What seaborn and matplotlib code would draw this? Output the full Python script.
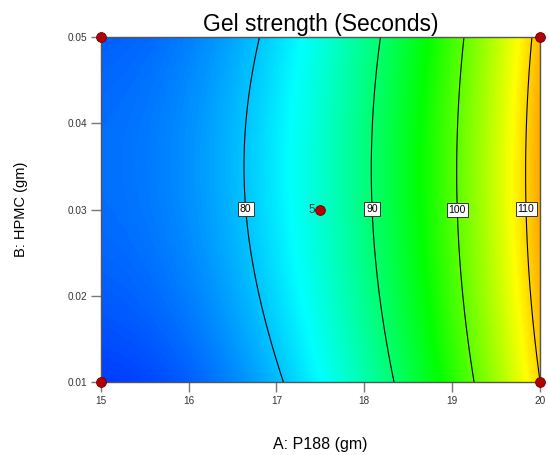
import numpy as np
import pandas as pd
import matplotlib
matplotlib.use("Agg")
import matplotlib.pyplot as plt
import seaborn as sns
from matplotlib.colors import LinearSegmentedColormap

# ---------------- data ----------------
p188_range = [15.0, 20.0]
hpmc_range = [0.01, 0.05]
# coded quadratic model: Y = I + A*a + B*b + AB*a*b + A2*a^2 + B2*b^2
coef_terms = ["I", "A", "B", "AB", "A2", "B2"]
coef_values = [85.2, 18.27, 0.76, -0.1, 8.73, -1.6]
contour_levels = [80, 90, 100, 110]
design_p188 = [15, 15, 20, 20, 17.5]
design_hpmc = [0.01, 0.05, 0.01, 0.05, 0.03]
center_reps = 5
x_ticks = [15, 16, 17, 18, 19, 20]
y_ticks = [0.01, 0.02, 0.03, 0.04, 0.05]
color_limits = [70.2, 120.6]
title = "Gel strength (Seconds)"
x_label = "A: P188 (gm)"
y_label = "B: HPMC (gm)"

# ---------------- styling ----------------
sns.set_theme(style="ticks")
plt.rcParams["font.family"] = ["Liberation Sans", "DejaVu Sans"]

coef = dict(zip(coef_terms, coef_values))
A = np.linspace(p188_range[0], p188_range[1], 400)
B = np.linspace(hpmc_range[0], hpmc_range[1], 400)
AA, BB = np.meshgrid(A, B)
a = (AA - np.mean(p188_range)) / (np.diff(p188_range)[0] / 2)
b = (BB - np.mean(hpmc_range)) / (np.diff(hpmc_range)[0] / 2)
Y = (coef["I"] + coef["A"] * a + coef["B"] * b + coef["AB"] * a * b
     + coef["A2"] * a ** 2 + coef["B2"] * b ** 2)

cmap = LinearSegmentedColormap.from_list(
    "de", ["#0000ff", "#00ffff", "#00ff00", "#ffff00", "#ff0000"])

fig = plt.figure(figsize=(5.48, 4.55), dpi=100)
ax = fig.add_axes([0.184, 0.160, 0.801, 0.759])

ax.imshow(Y, extent=[A[0], A[-1], B[0], B[-1]], origin="lower", aspect="auto",
          cmap=cmap, vmin=color_limits[0], vmax=color_limits[1],
          interpolation="bilinear")
cs = ax.contour(AA, BB, Y, levels=contour_levels, colors="black",
                linewidths=0.8)

mid_b = np.mean(hpmc_range)
for lev, segs in zip(contour_levels, cs.allsegs):
    if not segs:
        continue
    seg = max(segs, key=len)
    i = np.argmin(np.abs(seg[:, 1] - mid_b))
    ax.text(seg[i, 0], seg[i, 1], f"{lev}", ha="center", va="center",
            fontsize=7.5, color="black", zorder=6,
            bbox=dict(boxstyle="square,pad=0.2", fc="white", ec="#333333",
                      lw=0.7))

pts = pd.DataFrame({"P188": design_p188, "HPMC": design_hpmc})
sns.scatterplot(data=pts, x="P188", y="HPMC", ax=ax, color="#b30000",
                edgecolor="#6a0000", linewidth=0.6, s=50, zorder=7,
                clip_on=False, legend=False)
ax.annotate(str(center_reps), xy=(design_p188[4], design_hpmc[4]),
            xytext=(-4, 0), textcoords="offset points", ha="right",
            va="center", fontsize=8.5, color="#1f3d3d")

ax.set_xlim(p188_range)
ax.set_ylim(hpmc_range)
ax.set_xticks(x_ticks)
ax.set_yticks(y_ticks)
ax.set_xticklabels([f"{t}" for t in x_ticks])
ax.set_yticklabels([f"{t:.2f}" for t in y_ticks])
ax.tick_params(axis="both", direction="out", length=7, width=1,
               color="#777777", labelsize=7.2, labelcolor="#333333", pad=3)
for sp in ax.spines.values():
    sp.set_color("#555555")
    sp.set_linewidth(1.0)

ax.set_title(title, fontsize=16.5, pad=4, color="black")
ax.set_xlabel(x_label, fontsize=11.5, labelpad=22, color="black")
ax.set_ylabel(y_label, fontsize=10.5, labelpad=28, color="black")

fig.savefig("out.png", dpi=100)
